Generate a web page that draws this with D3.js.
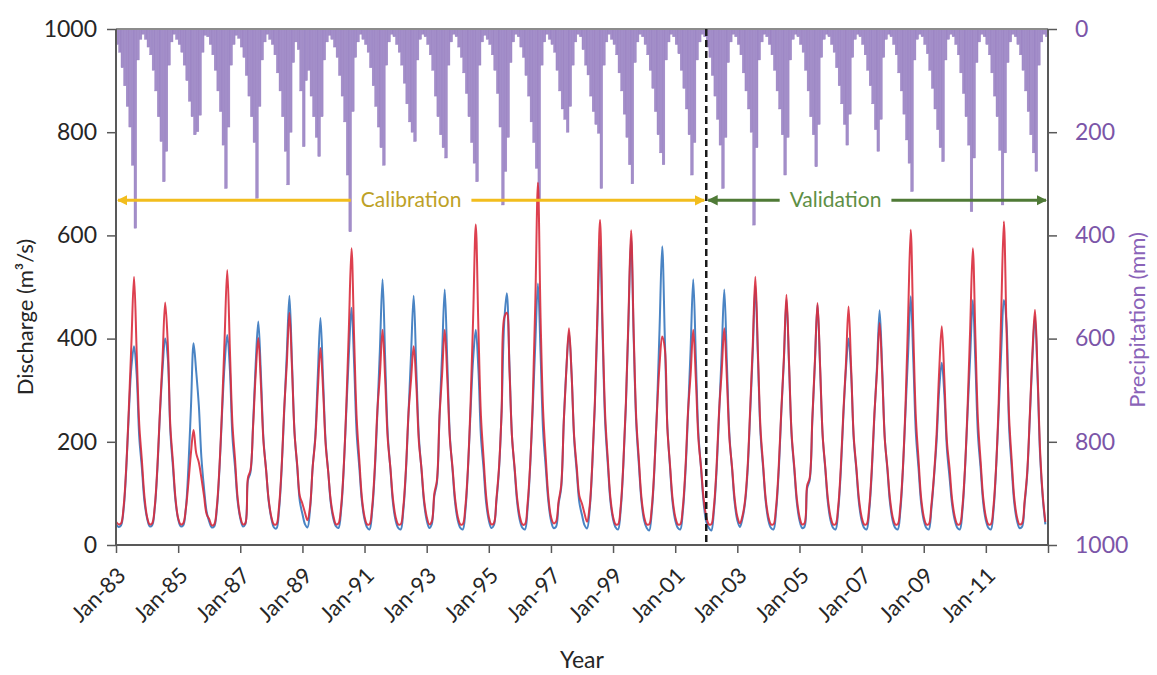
<!DOCTYPE html>
<html>
<head>
<meta charset="utf-8">
<script src="https://cdn.jsdelivr.net/npm/d3@7"></script>
<style>
  body { margin: 0; background: #fff; }
  text { font-family: Lato, "Open Sans", sans-serif; }
</style>
</head>
<body>
<div id="chart"></div>
<script>
// chart size and plot box
const W = 1157, H = 675;
const margin = { top: 29, right: 109, bottom: 130, left: 116 };
const width = W - margin.left - margin.right;
const height = H - margin.top - margin.bottom;

// monthly series, Jan 1983 .. Dec 2012 (one row per year)
const startYear = 1983;
const endYear = 2013;
const splitYear = 2002;

// observed discharge (m3/s)
const observed = [
  40, 35, 38, 70, 145, 255, 345, 385, 330, 210, 150, 85,    // 1983
  52, 36, 38, 72, 145, 255, 340, 400, 362, 220, 150, 85,    // 1984
  50, 36, 38, 70, 150, 270, 391, 336, 270, 170, 110, 65,    // 1985
  45, 34, 36, 70, 145, 255, 350, 407, 340, 210, 150, 85,    // 1986
  52, 36, 40, 125, 141, 235, 350, 433, 330, 205, 145, 85,   // 1987
  52, 34, 32, 68, 145, 260, 370, 483, 350, 215, 150, 85,    // 1988
  60, 40, 34, 70, 150, 210, 330, 440, 320, 200, 140, 80,    // 1989
  50, 36, 33, 68, 145, 260, 370, 460, 350, 215, 150, 85,    // 1990
  50, 34, 30, 66, 140, 255, 380, 515, 360, 215, 148, 82,    // 1991
  48, 33, 30, 66, 140, 255, 370, 483, 340, 210, 145, 82,    // 1992
  48, 33, 40, 95, 120, 250, 370, 495, 350, 210, 145, 82,    // 1993
  48, 33, 30, 66, 145, 260, 360, 417, 340, 210, 148, 82,    // 1994
  48, 33, 38, 85, 145, 260, 430, 488, 350, 210, 145, 82,    // 1995
  48, 33, 30, 70, 150, 265, 390, 507, 370, 220, 150, 85,    // 1996
  48, 33, 35, 80, 110, 240, 340, 412, 330, 205, 140, 82,    // 1997
  58, 38, 32, 68, 150, 270, 430, 580, 400, 235, 155, 85,    // 1998
  50, 34, 30, 68, 150, 270, 430, 595, 400, 235, 155, 85,    // 1999
  48, 33, 28, 66, 145, 265, 420, 579, 400, 230, 150, 82,    // 2000
  48, 33, 30, 66, 140, 255, 380, 515, 360, 215, 148, 82,    // 2001
  45, 33, 28, 66, 140, 255, 370, 495, 350, 212, 146, 82,    // 2002
  48, 35, 50, 80, 140, 255, 370, 502, 360, 215, 148, 84,    // 2003
  48, 33, 30, 66, 140, 255, 355, 475, 345, 210, 146, 82,    // 2004
  48, 33, 35, 110, 126, 240, 350, 466, 340, 210, 146, 82,   // 2005
  48, 33, 30, 66, 140, 250, 340, 400, 330, 205, 145, 82,    // 2006
  48, 33, 30, 66, 140, 250, 345, 455, 340, 208, 145, 82,    // 2007
  48, 33, 30, 66, 145, 260, 370, 482, 355, 215, 148, 82,    // 2008
  48, 33, 30, 70, 130, 200, 300, 353, 290, 185, 130, 78,    // 2009
  48, 33, 30, 66, 145, 258, 365, 475, 350, 212, 148, 82,    // 2010
  48, 33, 30, 66, 145, 258, 375, 475, 430, 230, 150, 82,    // 2011
  48, 33, 35, 80, 135, 245, 360, 443, 320, 170, 90, 40      // 2012
];

// simulated discharge (m3/s)
const simulated = [
  45, 40, 42, 75, 150, 265, 390, 520, 375, 235, 165, 95,    // 1983
  55, 40, 42, 75, 150, 260, 360, 470, 390, 230, 160, 90,    // 1984
  52, 40, 42, 70, 120, 180, 223, 178, 160, 130, 95, 60,     // 1985
  50, 38, 40, 75, 150, 265, 400, 533, 380, 235, 165, 92,    // 1986
  55, 40, 42, 130, 145, 230, 330, 401, 310, 200, 145, 88,   // 1987
  55, 40, 40, 75, 150, 265, 350, 450, 340, 215, 155, 95,    // 1988
  80, 62, 48, 75, 150, 205, 300, 382, 300, 195, 140, 85,    // 1989
  55, 40, 42, 75, 150, 270, 420, 575, 400, 245, 165, 92,    // 1990
  55, 40, 40, 74, 148, 260, 330, 417, 320, 205, 150, 90,    // 1991
  55, 40, 40, 74, 145, 255, 320, 385, 310, 200, 148, 88,    // 1992
  55, 40, 45, 100, 125, 250, 330, 417, 320, 205, 150, 90,   // 1993
  55, 40, 40, 75, 150, 275, 440, 621, 420, 250, 168, 95,    // 1994
  55, 40, 42, 90, 150, 260, 440, 450, 340, 210, 150, 90,    // 1995
  55, 40, 40, 80, 155, 280, 470, 702, 440, 260, 170, 95,    // 1996
  55, 42, 45, 85, 115, 240, 340, 420, 330, 210, 150, 95,    // 1997
  80, 60, 45, 75, 155, 275, 450, 630, 420, 250, 165, 92,    // 1998
  55, 40, 40, 75, 155, 275, 440, 610, 410, 245, 165, 92,    // 1999
  55, 40, 40, 74, 150, 260, 350, 404, 380, 225, 155, 90,    // 2000
  55, 40, 40, 74, 148, 260, 330, 417, 320, 205, 150, 90,    // 2001
  55, 40, 40, 74, 148, 260, 335, 420, 320, 205, 150, 90,    // 2002
  55, 42, 55, 85, 148, 262, 385, 520, 370, 225, 155, 90,    // 2003
  55, 40, 40, 74, 148, 260, 360, 485, 350, 215, 152, 90,    // 2004
  55, 40, 42, 115, 130, 245, 355, 469, 345, 212, 150, 90,   // 2005
  55, 40, 40, 74, 148, 258, 350, 462, 340, 210, 150, 90,    // 2006
  55, 40, 40, 74, 148, 255, 335, 430, 330, 205, 150, 90,    // 2007
  55, 40, 40, 75, 150, 272, 440, 611, 410, 245, 165, 92,    // 2008
  55, 40, 40, 78, 134, 215, 335, 424, 320, 200, 148, 88,    // 2009
  55, 40, 40, 75, 150, 270, 420, 575, 400, 240, 162, 92,    // 2010
  55, 40, 40, 75, 150, 275, 450, 627, 420, 250, 165, 92,    // 2011
  55, 40, 42, 85, 140, 250, 370, 456, 330, 180, 95, 45      // 2012
];

// monthly precipitation (mm)
const precipitation = [
  30, 45, 75, 110, 150, 190, 264, 386, 60, 20, 10, 20,      // 1983
  35, 50, 80, 120, 170, 218, 296, 237, 70, 25, 10, 20,      // 1984
  30, 45, 70, 100, 140, 170, 205, 199, 167, 45, 12, 15,     // 1985
  30, 50, 80, 120, 160, 225, 309, 190, 70, 30, 12, 18,      // 1986
  35, 55, 90, 130, 170, 220, 328, 150, 60, 25, 10, 20,      // 1987
  30, 50, 85, 120, 170, 237, 302, 200, 65, 25, 40, 120,     // 1988
  228, 100, 80, 130, 170, 210, 247, 170, 60, 25, 12, 20,    // 1989
  35, 55, 90, 130, 180, 283, 393, 160, 55, 25, 10, 20,      // 1990
  30, 45, 75, 110, 150, 190, 230, 264, 70, 25, 10, 15,      // 1991
  30, 45, 70, 105, 145, 180, 200, 218, 60, 20, 10, 15,      // 1992
  30, 50, 80, 130, 170, 205, 230, 250, 70, 25, 10, 15,      // 1993
  35, 55, 85, 125, 170, 220, 260, 296, 70, 25, 12, 20,      // 1994
  30, 50, 80, 125, 190, 341, 276, 210, 65, 25, 10, 15,      // 1995
  35, 55, 90, 130, 180, 220, 270, 330, 70, 25, 10, 20,      // 1996
  30, 45, 80, 120, 155, 175, 200, 150, 70, 25, 10, 15,      // 1997
  40, 70, 89, 130, 160, 185, 202, 309, 70, 25, 10, 20,      // 1998
  30, 50, 85, 120, 165, 210, 263, 300, 65, 25, 10, 15,      // 1999
  30, 50, 80, 115, 160, 205, 240, 263, 60, 25, 10, 15,      // 2000
  30, 48, 80, 115, 155, 205, 283, 220, 60, 25, 10, 15,      // 2001
  35, 55, 90, 130, 175, 225, 309, 210, 65, 25, 10, 15,      // 2002
  30, 50, 85, 120, 155, 200, 380, 230, 60, 25, 10, 15,      // 2003
  30, 50, 80, 120, 155, 205, 283, 210, 60, 20, 10, 15,      // 2004
  30, 45, 80, 120, 170, 205, 267, 185, 55, 20, 10, 15,      // 2005
  30, 45, 75, 110, 145, 185, 225, 165, 55, 20, 10, 15,      // 2006
  30, 50, 80, 110, 145, 195, 237, 175, 55, 20, 10, 15,      // 2007
  30, 50, 85, 120, 165, 215, 260, 315, 60, 20, 10, 15,      // 2008
  30, 48, 80, 115, 155, 195, 230, 257, 60, 20, 10, 15,      // 2009
  30, 50, 85, 125, 170, 225, 354, 250, 65, 25, 10, 15,      // 2010
  30, 50, 85, 130, 170, 235, 341, 240, 65, 25, 10, 15,      // 2011
  30, 50, 80, 120, 160, 205, 240, 276, 70, 25, 10, 15       // 2012
];

// axis ticks
const dischargeTicks = [0, 200, 400, 600, 800, 1000];
const precipTicks = [0, 200, 400, 600, 800, 1000];
const yearTicks = [1983, 1985, 1987, 1989, 1991, 1993, 1995, 1997, 1999, 2001, 2003, 2005, 2007, 2009, 2011, 2013];
const yearLabels = ["Jan-83", "Jan-85", "Jan-87", "Jan-89", "Jan-91", "Jan-93", "Jan-95", "Jan-97",
                    "Jan-99", "Jan-01", "Jan-03", "Jan-05", "Jan-07", "Jan-09", "Jan-11", ""];

// period annotation level (in discharge units)
const periodLevel = 668;

var svg, g, x, y, yP, dates;

document.addEventListener('DOMContentLoaded', function () {
    svg = d3.select("#chart").append("svg")
        .attr("width", W)
        .attr("height", H);
    svg.append("rect").attr("width", W).attr("height", H).attr("fill", "#fff");

    g = svg.append("g")
        .attr("transform", `translate(${margin.left}, ${margin.top})`);

    dates = d3.timeMonth.range(new Date(startYear, 0, 1), new Date(endYear, 0, 1));

    x = d3.scaleTime()
        .domain([new Date(startYear, 0, 1), new Date(endYear, 0, 1)])
        .range([0, width]);
    y = d3.scaleLinear().domain([0, 1000]).range([height, 0]);
    yP = d3.scaleLinear().domain([0, 1000]).range([0, height]);

    drawBars();
    drawLines();
    drawAxes();
    drawPeriods();
    addLabels();
});

// precipitation hanging from the top
function drawBars() {
    g.append("g").selectAll("rect")
        .data(precipitation)
        .join("rect")
        .attr("x", (d, i) => x(dates[i]))
        .attr("y", 0)
        .attr("width", (d, i) => x(d3.timeMonth.offset(dates[i], 1)) - x(dates[i]))
        .attr("height", d => yP(d))
        .attr("fill", "#a38ec9")
        .attr("stroke", "#9279bd")
        .attr("stroke-width", 0.4);
}

function drawLines() {
    const line = d3.line()
        .x((d, i) => x(dates[i]))
        .y(d => y(d))
        .curve(d3.curveCatmullRom.alpha(0.5));

    g.append("path")
        .datum(observed)
        .attr("d", line)
        .attr("fill", "none")
        .attr("stroke", "#4a84c4")
        .attr("stroke-width", 2);

    g.append("path")
        .datum(simulated)
        .attr("d", line)
        .attr("fill", "none")
        .attr("stroke", "#d92b3c")
        .attr("stroke-width", 2)
        .attr("stroke-opacity", 0.9);
}

function drawAxes() {
    const axisColor = "#595959";
    const fmt = d3.format("d");

    // left, discharge
    const left = g.append("g")
        .call(d3.axisLeft(y).tickValues(d3.range(0, 1001, 40)).tickSize(6).tickFormat(""));
    left.call(d3.axisLeft(y).tickValues(dischargeTicks).tickSize(9).tickPadding(10).tickFormat(fmt));
    left.selectAll("text").attr("fill", "#262626").style("font-size", "23px");
    left.selectAll("line").attr("stroke", axisColor).attr("stroke-width", 1.5);
    left.selectAll(".domain").remove();

    // right, precipitation
    const right = g.append("g")
        .attr("transform", `translate(${width},0)`)
        .call(d3.axisRight(yP).tickValues(d3.range(0, 1001, 40)).tickSize(6).tickFormat(""));
    right.call(d3.axisRight(yP).tickValues(precipTicks).tickSize(9).tickPadding(18).tickFormat(fmt));
    right.selectAll("text").attr("fill", "#7b55a8").style("font-size", "23px");
    right.selectAll("line").attr("stroke", axisColor).attr("stroke-width", 1.5);
    right.selectAll(".domain").remove();

    // bottom, time
    const bottom = g.append("g")
        .attr("transform", `translate(0,${height})`)
        .call(d3.axisBottom(x)
            .tickValues(yearTicks.map(yr => new Date(yr, 0, 1)))
            .tickSize(8)
            .tickFormat(""));
    bottom.selectAll("line").attr("stroke", axisColor).attr("stroke-width", 1.5);
    bottom.selectAll(".domain").remove();

    bottom.selectAll(".xlab")
        .data(yearTicks)
        .join("text")
        .attr("class", "xlab")
        .attr("transform", yr => `translate(${x(new Date(yr, 0, 1)) + 11}, 32) rotate(-45)`)
        .attr("text-anchor", "end")
        .attr("fill", "#262626")
        .style("font-size", "22px")
        .text((yr, i) => yearLabels[i]);

    // frame
    g.append("line").attr("x1", 0).attr("x2", width).attr("y1", height).attr("y2", height)
        .attr("stroke", axisColor).attr("stroke-width", 2);
    g.append("line").attr("x1", 0).attr("x2", width).attr("y1", 0).attr("y2", 0)
        .attr("stroke", "#8c8c8c").attr("stroke-width", 2);
    g.append("line").attr("x1", 0).attr("x2", 0).attr("y1", 0).attr("y2", height)
        .attr("stroke", axisColor).attr("stroke-width", 2);
    g.append("line").attr("x1", width).attr("x2", width).attr("y1", 0).attr("y2", height)
        .attr("stroke", axisColor).attr("stroke-width", 2);
}

// calibration / validation split and arrows
function drawPeriods() {
    const xs = x(new Date(splitYear, 0, 1));
    const yl = y(periodLevel);

    const defs = svg.append("defs");
    function marker(id, color) {
        defs.append("marker")
            .attr("id", id)
            .attr("viewBox", "0 0 10 10")
            .attr("refX", 9)
            .attr("refY", 5)
            .attr("markerWidth", 3.5)
            .attr("markerHeight", 3.5)
            .attr("markerUnits", "strokeWidth")
            .attr("orient", "auto-start-reverse")
            .append("path")
            .attr("d", "M0,0 L10,5 L0,10 z")
            .attr("fill", color);
    }
    marker("arrCal", "#f2bd1d");
    marker("arrVal", "#4f7a36");

    function period(x0, x1, textX, label, lineColor, textColor, markerId) {
        const t = g.append("text")
            .attr("x", textX)
            .attr("y", yl + 7)
            .attr("text-anchor", "middle")
            .attr("fill", textColor)
            .style("font-size", "21px")
            .text(label);
        const bb = t.node().getBBox();
        g.append("line")
            .attr("x1", x0).attr("x2", bb.x - 10)
            .attr("y1", yl).attr("y2", yl)
            .attr("stroke", lineColor).attr("stroke-width", 3)
            .attr("marker-start", `url(#${markerId})`);
        g.append("line")
            .attr("x1", bb.x + bb.width + 10).attr("x2", x1)
            .attr("y1", yl).attr("y2", yl)
            .attr("stroke", lineColor).attr("stroke-width", 3)
            .attr("marker-end", `url(#${markerId})`);
    }

    period(x(new Date(startYear, 0, 1)) + 2, xs - 2,
        (x(new Date(startYear, 0, 1)) + xs) / 2, "Calibration", "#f2bd1d", "#bda126", "arrCal");
    period(xs + 2, x(new Date(endYear, 0, 1)) - 2,
        x(new Date(2006, 2, 1)), "Validation", "#4f7a36", "#5e8f45", "arrVal");

    g.append("line")
        .attr("x1", xs).attr("x2", xs)
        .attr("y1", 0).attr("y2", height)
        .attr("stroke", "#1a1a1a")
        .attr("stroke-width", 2.5)
        .attr("stroke-dasharray", "7,4");
}

function addLabels() {
    svg.append("text")
        .attr("transform", `translate(33, ${margin.top + height / 2 + 30}) rotate(-90)`)
        .attr("text-anchor", "middle")
        .attr("fill", "#262626")
        .style("font-size", "22px")
        .text("Discharge (m³/s)");

    svg.append("text")
        .attr("transform", `translate(1145, ${margin.top + height / 2 + 33}) rotate(-90)`)
        .attr("text-anchor", "middle")
        .attr("fill", "#8a63b8")
        .style("font-size", "22px")
        .text("Precipitation (mm)");

    svg.append("text")
        .attr("x", margin.left + width / 2)
        .attr("y", 668)
        .attr("text-anchor", "middle")
        .attr("fill", "#262626")
        .style("font-size", "23px")
        .text("Year");
}
</script>
</body>
</html>
